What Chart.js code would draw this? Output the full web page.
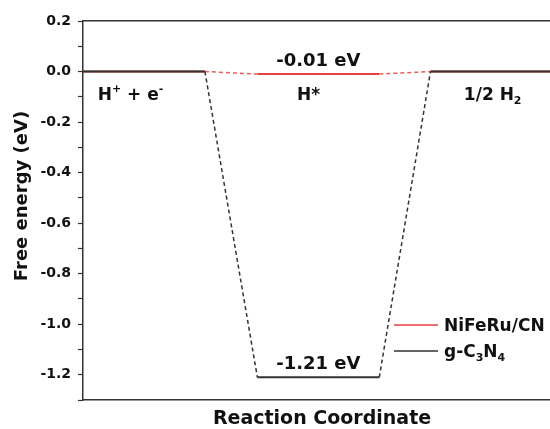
<!DOCTYPE html>
<html>
<head>
<meta charset="utf-8">
<script src="https://cdn.jsdelivr.net/npm/chart.js@4"></script>
<style>
  body { margin: 0; background: #fff; }
  canvas { display: block; }
</style>
</head>
<body>
<canvas id="energyChart" width="550" height="429"></canvas>
<script>
// datos del diagrama de energía libre
const levelStart = [0, 1.43, 2.85];
const levelEnd = [1, 2.43, 3.85];
const gC3N4 = [0, -1.21, 0];
const niFeRuCN = [0, -0.01, 0];
const yTicks = [0.2, 0.0, -0.2, -0.4, -0.6, -0.8, -1.0, -1.2];

// etiquetas con super/subíndices
const stateLabels = [
    [{ t: 'H' }, { t: '+', sup: true }, { t: ' + e' }, { t: '-', sup: true }],
    [{ t: 'H*' }],
    [{ t: '1/2 H' }, { t: '2', sub: true }]
];
const seriesNames = [
    [{ t: 'NiFeRu/CN' }],
    [{ t: 'g-C' }, { t: '3', sub: true }, { t: 'N' }, { t: '4', sub: true }]
];

const FONT = '"DejaVu Sans", sans-serif';
const RED = '#e8413f';
const DARK = '#333333';

// posiciones de texto (solo layout)
const stateLabelX = [0.39, 1.85, 3.36];

function buildPoints(values) {
    const pts = [];
    values.forEach((v, i) => {
        pts.push({ x: levelStart[i], y: v });
        pts.push({ x: levelEnd[i], y: v });
    });
    return pts;
}

function drawRich(ctx, parts, x, y, size, align) {
    const widths = parts.map(p => {
        ctx.font = 'bold ' + ((p.sup || p.sub) ? Math.round(size * 0.65) : size) + 'px ' + FONT;
        return ctx.measureText(p.t).width;
    });
    const total = widths.reduce((a, b) => a + b, 0);
    let cx = align === 'center' ? x - total / 2 : x;
    ctx.textAlign = 'left';
    ctx.textBaseline = 'alphabetic';
    parts.forEach((p, i) => {
        const small = p.sup || p.sub;
        ctx.font = 'bold ' + (small ? Math.round(size * 0.65) : size) + 'px ' + FONT;
        let dy = 0;
        if (p.sup) dy = -size * 0.42;
        if (p.sub) dy = size * 0.25;
        ctx.fillText(p.t, cx, y + dy);
        cx += widths[i];
    });
}

const textPlugin = {
    id: 'textPlugin',
    afterDraw(chart) {
        const ctx = chart.ctx;
        const xs = chart.scales.x;
        const ys = chart.scales.y;
        ctx.save();
        ctx.fillStyle = '#111';

        // nombres de los estados
        stateLabels.forEach((parts, i) => {
            drawRich(ctx, parts, xs.getPixelForValue(stateLabelX[i]), ys.getPixelForValue(0) + 28, 17, 'center');
        });

        // energía del intermedio H*
        const mid = (levelStart[1] + levelEnd[1]) / 2;
        [niFeRuCN[1], gC3N4[1]].forEach(v => {
            drawRich(ctx, [{ t: v.toFixed(2) + ' eV' }], xs.getPixelForValue(mid), ys.getPixelForValue(v) - 8, 18, 'center');
        });

        // leyenda
        const legend = [[RED, seriesNames[0], 325], [DARK, seriesNames[1], 351]];
        legend.forEach(([color, parts, ly]) => {
            ctx.strokeStyle = color;
            ctx.lineWidth = 1.5;
            ctx.beginPath();
            ctx.moveTo(394, ly);
            ctx.lineTo(438, ly);
            ctx.stroke();
            drawRich(ctx, parts, 444, ly + 6, 17, 'left');
        });

        // títulos de los ejes
        drawRich(ctx, [{ t: 'Reaction Coordinate' }], 322, 424, 19, 'center');
        ctx.translate(27, 196);
        ctx.rotate(-Math.PI / 2);
        drawRich(ctx, [{ t: 'Free energy (eV)' }], 0, 0, 18, 'center');
        ctx.restore();
    }
};

const dashedSeg = {
    borderDash: c => (c.p0DataIndex % 2 ? [4, 3] : undefined),
    borderWidth: c => (c.p0DataIndex % 2 ? 1.5 : 2)
};

new Chart(document.getElementById('energyChart'), {
    type: 'line',
    data: {
        datasets: [
            {
                label: 'g-C3N4',
                data: buildPoints(gC3N4),
                borderColor: DARK,
                borderWidth: 2,
                pointRadius: 0,
                order: 0,
                segment: dashedSeg
            },
            {
                label: 'NiFeRu/CN',
                data: buildPoints(niFeRuCN),
                borderColor: RED,
                borderWidth: 2,
                pointRadius: 0,
                order: 1,
                segment: {
                    borderDash: dashedSeg.borderDash,
                    borderWidth: dashedSeg.borderWidth,
                    borderColor: c => (c.p0DataIndex % 2 ? 'rgba(232,65,63,0.85)' : RED)
                }
            }
        ]
    },
    options: {
        responsive: false,
        animation: false,
        layout: { padding: 0 },
        plugins: { legend: { display: false }, tooltip: { enabled: false } },
        scales: {
            x: {
                type: 'linear',
                min: 0,
                max: 3.83,
                ticks: { display: false },
                grid: { display: false },
                border: { display: true, color: DARK, width: 1.5 },
                afterFit: s => { s.height = 29; }
            },
            xTop: {
                type: 'linear',
                position: 'top',
                min: 0,
                max: 3.83,
                ticks: { display: false },
                grid: { display: false },
                border: { display: true, color: DARK, width: 1.5 },
                afterFit: s => { s.height = 21; }
            },
            y: {
                min: -1.3,
                max: 0.2,
                afterBuildTicks: s => {
                    const t = [];
                    for (let k = -13; k <= 2; k++) t.push({ value: k / 10 });
                    s.ticks = t;
                },
                ticks: {
                    autoSkip: false,
                    padding: 7,
                    color: '#111',
                    font: { family: FONT, size: 14, weight: 'bold' },
                    callback: v => {
                        const hit = yTicks.find(t => Math.abs(t - v) < 1e-6);
                        return hit === undefined ? '' : hit.toFixed(1);
                    }
                },
                grid: { drawOnChartArea: false, drawTicks: true, tickLength: 5, tickColor: DARK, tickWidth: 1.2 },
                border: { display: true, color: DARK, width: 1.5 },
                afterFit: s => { s.width = 83; }
            }
        }
    },
    plugins: [textPlugin]
});
</script>
</body>
</html>
